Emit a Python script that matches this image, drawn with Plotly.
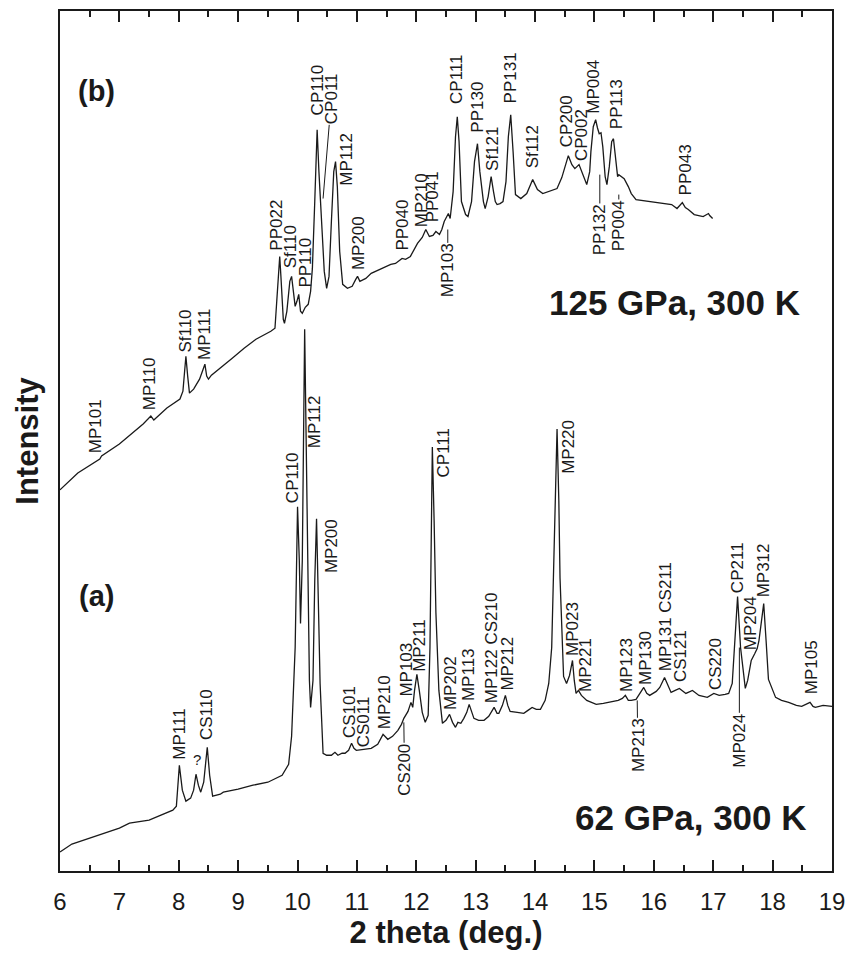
import plotly.graph_objects as go

# ---------------- data (2 theta in deg., intensity in arbitrary units) ----------------
# (a) 62 GPa, 300 K
two_theta_a = [6.00, 6.20, 6.50, 6.80, 7.00, 7.17, 7.30, 7.50, 7.70, 7.90, 7.96, 8.01, 8.06, 8.12,
               8.20, 8.25, 8.29, 8.33, 8.37, 8.42, 8.48, 8.52, 8.57, 8.70, 8.75, 9.00, 9.25, 9.50,
               9.74, 9.85, 9.90, 9.96, 10.00, 10.03, 10.05, 10.08, 10.12, 10.16, 10.20, 10.22, 10.26,
               10.29, 10.32, 10.35, 10.38, 10.43, 10.49, 10.57, 10.63, 10.68, 10.75, 10.80, 10.86,
               10.91, 10.95, 10.99, 11.10, 11.24, 11.35, 11.44, 11.52, 11.60, 11.69, 11.75, 11.79,
               11.86, 11.91, 11.94, 11.97, 12.01, 12.05, 12.10, 12.15, 12.20, 12.23, 12.25, 12.27,
               12.30, 12.33, 12.38, 12.44, 12.50, 12.56, 12.61, 12.66, 12.70, 12.75, 12.80, 12.85,
               12.89, 12.93, 12.97, 13.05, 13.14, 13.22, 13.31, 13.36, 13.39, 13.45, 13.50, 13.54,
               13.58, 13.70, 13.81, 13.88, 13.95, 14.02, 14.09, 14.17, 14.23, 14.28, 14.32, 14.37,
               14.40, 14.42, 14.48, 14.53, 14.58, 14.63, 14.66, 14.69, 14.73, 14.78, 14.87, 15.03,
               15.15, 15.26, 15.40, 15.47, 15.52, 15.57, 15.62, 15.70, 15.77, 15.83, 15.88, 15.93,
               16.04, 16.10, 16.18, 16.24, 16.29, 16.36, 16.43, 16.54, 16.65, 16.76, 16.90, 17.01,
               17.10, 17.20, 17.26, 17.32, 17.36, 17.41, 17.46, 17.49, 17.54, 17.58, 17.64, 17.70,
               17.74, 17.77, 17.81, 17.85, 17.89, 17.93, 18.05, 18.15, 18.27, 18.40, 18.49, 18.57,
               18.63, 18.68, 18.72, 18.85, 19.00]
intensity_a = [19, 27, 33, 39, 43, 48, 49, 51, 56, 61, 65, 106, 81, 70,
               73, 81, 97, 86, 79, 89, 124, 96, 75, 77, 79, 82, 86, 89,
               96, 107, 135, 224, 365, 311, 248, 311, 543, 351, 191, 164, 191,
               291, 353, 271, 188, 118, 116, 116, 119, 116, 118, 118, 121,
               128, 123, 121, 122, 123, 127, 137, 132, 135, 141, 147, 153,
               160, 169, 164, 181, 197, 181, 159, 149, 156, 224, 351, 425,
               351, 259, 181, 148, 151, 157, 149, 144, 149, 148, 153, 159,
               167, 159, 153, 151, 151, 155, 164, 158, 158, 166, 176, 166,
               160, 159, 158, 161, 164, 162, 162, 171, 188, 224, 330, 443,
               371, 294, 195, 188, 196, 211, 191, 178, 181, 176, 171, 167,
               168, 169, 171, 173, 176, 171, 171, 172, 178, 184, 178, 176,
               180, 184, 194, 186, 179, 181, 183, 178, 181, 176, 174, 178,
               176, 177, 178, 188, 231, 275, 224, 209, 183, 191, 211, 218,
               223, 231, 251, 268, 231, 192, 174, 171, 169, 166, 165, 167,
               169, 165, 164, 166, 165]

# (b) 125 GPa, 300 K
two_theta_b = [6.00, 6.30, 6.67, 6.70, 7.00, 7.20, 7.40, 7.53, 7.58, 7.80, 8.02, 8.07, 8.10, 8.12,
               8.15, 8.18, 8.25, 8.35, 8.41, 8.44, 8.47, 8.50, 8.55, 8.70, 8.90, 9.10, 9.30, 9.55,
               9.62, 9.65, 9.68, 9.70, 9.72, 9.76, 9.78, 9.82, 9.87, 9.90, 9.93, 9.96, 9.99, 10.02,
               10.05, 10.08, 10.13, 10.18, 10.22, 10.25, 10.29, 10.33, 10.36, 10.39, 10.42, 10.45,
               10.49, 10.53, 10.57, 10.61, 10.64, 10.67, 10.71, 10.76, 10.84, 10.92, 10.98, 11.01,
               11.05, 11.15, 11.24, 11.40, 11.57, 11.65, 11.76, 11.82, 11.90, 12.02, 12.10, 12.16,
               12.22, 12.28, 12.33, 12.39, 12.43, 12.47, 12.50, 12.54, 12.57, 12.62, 12.66, 12.69,
               12.72, 12.76, 12.83, 12.87, 12.93, 12.98, 13.03, 13.07, 13.13, 13.16, 13.21, 13.26,
               13.30, 13.33, 13.36, 13.41, 13.46, 13.51, 13.55, 13.59, 13.63, 13.67, 13.76, 13.86,
               13.96, 14.04, 14.13, 14.23, 14.30, 14.37, 14.45, 14.49, 14.56, 14.62, 14.67, 14.74,
               14.80, 14.87, 14.92, 14.94, 14.98, 15.02, 15.05, 15.08, 15.11, 15.14, 15.18, 15.21,
               15.25, 15.29, 15.32, 15.36, 15.39, 15.41, 15.45, 15.50, 15.57, 15.62, 15.70, 15.95,
               16.15, 16.30, 16.39, 16.48, 16.53, 16.58, 16.68, 16.83, 16.92, 16.94, 16.99]
intensity_b = [382, 399, 413, 416, 428, 438, 448, 456, 452, 464, 473, 481, 506, 516,
               496, 479, 483, 493, 503, 508, 496, 493, 497, 504, 514, 524, 533, 541,
               544, 571, 606, 616, 596, 553, 549, 561, 591, 596, 581, 566, 571, 578,
               561, 559, 565, 568, 581, 604, 671, 743, 701, 671, 631, 601,
               584, 596, 651, 701, 711, 686, 621, 588, 584, 586, 593, 596,
               591, 594, 599, 603, 608, 609, 614, 613, 616, 629, 635, 643,
               636, 637, 641, 638, 643, 651, 654, 659, 654, 681, 736, 756,
               731, 671, 658, 656, 671, 711, 729, 701, 671, 664, 676, 696,
               681, 671, 668, 669, 671, 691, 736, 758, 721, 678, 674, 679,
               693, 683, 679, 681, 683, 684, 695, 703, 717, 708, 704, 708,
               699, 688, 701, 721, 746, 753, 745, 739, 740, 726, 696, 688,
               706, 731, 734, 711, 696, 698, 696, 694, 686, 679, 673, 671,
               669, 668, 664, 670, 665, 663, 658, 656, 659, 657, 654]

# peak labels written above the pattern: text, 2 theta, intensity at the foot of the label
labels_b = ["MP101", "MP110", "Sf110", "MP111", "PP022", "Sf110", "PP110", "CP110", "MP112",
            "MP200", "PP040", "MP210", "PP041", "CP111", "PP130", "Sf121", "PP131", "Sf112",
            "CP200", "CP002", "MP004", "PP113", "PP043"]
label_x_b = [6.61, 7.51, 8.12, 8.43, 9.65, 9.88, 10.13, 10.33, 10.81,
             11.03, 11.77, 12.09, 12.27, 12.68, 13.03, 13.28, 13.58, 13.95,
             14.53, 14.78, 14.99, 15.37, 16.53]
label_y_b = [418, 461, 519, 511, 621, 603, 584, 756, 686,
             601, 621, 644, 649, 768, 739, 701, 768, 703,
             724, 711, 758, 743, 676]

labels_a = ["MP111", "CS110", "CP110", "MP112", "MP200", "CS101", "CS011", "MP210", "MP103",
            "MP211", "CP111", "MP202", "MP113", "MP122 CS210", "MP212", "MP220", "MP023",
            "MP221", "MP123", "MP130", "MP131 CS211", "CS121", "CS220", "CP211", "MP204",
            "MP312", "MP105"]
label_x_a = [8.02, 8.48, 9.92, 10.29, 10.57, 10.88, 11.11, 11.47, 11.83,
             12.06, 12.45, 12.58, 12.89, 13.28, 13.53, 14.57, 14.63,
             14.85, 15.54, 15.86, 16.21, 16.45, 17.04, 17.40, 17.63,
             17.85, 18.66]
label_y_a = [111, 130, 368, 423, 298, 132, 123, 141, 174,
             199, 393, 160, 169, 167, 180, 397, 215,
             178, 178, 185, 199, 188, 180, 278, 220,
             273, 176]

# labels joined to their peak by a leader line: text, label centre (x, y), line end (x, y)
leader_text = ["CP011", "MP103", "PP132", "PP004", "CS200", "MP213", "MP024"]
leader_label_x = [10.57, 12.53, 15.09, 15.41, 11.80, 15.73, 17.44]
leader_label_y = [774, 602, 643, 647, 102, 126, 131]
leader_end_x = [10.43, 12.53, 15.09, 15.41, 11.79, 15.72, 17.44]
leader_end_y = [674, 643, 698, 678, 149, 171, 224]

x_ticks = [6, 7, 8, 9, 10, 11, 12, 13, 14, 15, 16, 17, 18, 19]

# ---------------- figure ----------------
FONT = "Liberation Sans, Arial, Helvetica, sans-serif"
INK = "#1a1a1a"

fig = go.Figure()
fig.add_trace(go.Scatter(x=two_theta_b, y=intensity_b, mode="lines",
                         line=dict(color=INK, width=1.3), showlegend=False, name="125 GPa"))
fig.add_trace(go.Scatter(x=two_theta_a, y=intensity_a, mode="lines",
                         line=dict(color=INK, width=1.3), showlegend=False, name="62 GPa"))

ann = []
for t, x, y in zip(labels_b + labels_a, label_x_b + label_x_a, label_y_b + label_y_a):
    ann.append(dict(x=x, y=y, xref="x", yref="y", text=t, showarrow=False, textangle=-90,
                    xanchor="center", yanchor="bottom", font=dict(family=FONT, size=17, color=INK),
                    borderpad=0))
ann.append(dict(x=8.31, y=102, xref="x", yref="y", text="?", showarrow=False,
                xanchor="center", yanchor="bottom", font=dict(family=FONT, size=15, color=INK),
                borderpad=0))
for t, lx, ly, ex, ey in zip(leader_text, leader_label_x, leader_label_y, leader_end_x, leader_end_y):
    ann.append(dict(x=ex, y=ey, xref="x", yref="y", ax=lx, ay=ly, axref="x", ayref="y",
                    text=t, showarrow=True, arrowhead=0, arrowwidth=1, arrowcolor=INK,
                    standoff=0, textangle=-90, borderpad=0,
                    font=dict(family=FONT, size=17, color=INK)))

ann += [
    dict(x=6.61, y=782, xref="x", yref="y", text="<b>(b)</b>", showarrow=False,
         font=dict(family=FONT, size=29, color=INK)),
    dict(x=6.61, y=276, xref="x", yref="y", text="<b>(a)</b>", showarrow=False,
         font=dict(family=FONT, size=29, color=INK)),
    dict(x=18.50, y=570, xref="x", yref="y", text="<b>125 GPa, 300 K</b>", showarrow=False,
         xanchor="right", yanchor="middle", font=dict(family=FONT, size=35, color=INK)),
    dict(x=18.61, y=54, xref="x", yref="y", text="<b>62 GPa, 300 K</b>", showarrow=False,
         xanchor="right", yanchor="middle", font=dict(family=FONT, size=35, color=INK)),
]

fig.update_layout(
    width=854, height=955,
    margin=dict(l=60, r=17, t=9, b=84),
    paper_bgcolor="white", plot_bgcolor="white",
    font=dict(family=FONT, color=INK),
    annotations=ann,
    xaxis=dict(range=[6, 19], tickvals=x_ticks, ticks="inside", ticklen=11, tickwidth=1.5,
               tickcolor=INK, showline=True, linecolor=INK, linewidth=1.5, mirror="ticks",
               showgrid=False, zeroline=False, tickfont=dict(size=24, family=FONT, color=INK),
               ticklabelstandoff=8,
               minor=dict(dtick=0.5, ticks="inside", ticklen=6, tickwidth=1.5, tickcolor=INK,
                          showgrid=False),
               title=dict(text="<b>2 theta (deg.)</b>", font=dict(size=31, family=FONT, color=INK),
                          standoff=8)),
    yaxis=dict(range=[0, 862], showticklabels=False, ticks="", showline=True, linecolor=INK,
               linewidth=1.5, mirror=True, showgrid=False, zeroline=False,
               title=dict(text="<b>Intensity</b>", font=dict(size=31, family=FONT, color=INK),
                          standoff=10)),
)

fig.write_html("out.html")
